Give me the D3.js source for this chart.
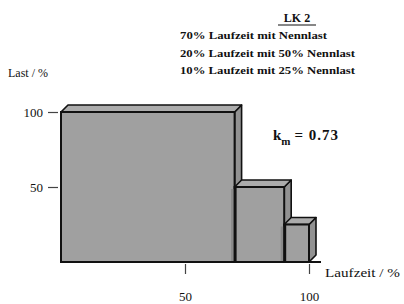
<!DOCTYPE html>
<html><head><meta charset="utf-8">
<script src="https://cdn.jsdelivr.net/npm/d3@7"></script>
<style>
html,body{margin:0;padding:0;background:#fff;}
svg{display:block;font-family:"Liberation Serif","DejaVu Serif",serif;}
</style></head>
<body><svg id="c" width="404" height="304"></svg>
<script>
// ---- data ----
const runtimeShare = [70, 20, 10];      // Laufzeit / %
const loadPct      = [100, 50, 25];     // Last / %
const xTickValues  = [50, 100];
const yTickValues  = [50, 100];
const legendTitle  = "LK 2";
const legendLines  = ["70% Laufzeit mit Nennlast", "20% Laufzeit mit 50% Nennlast", "10% Laufzeit mit 25% Nennlast"];
const kmValue      = "0.73";
const xTitle = "Laufzeit / %";
const yTitle = "Last / %";

// ---- layout ----
const svg = d3.select("#c");
const x = d3.scaleLinear().domain([0, 100]).range([61, 309]);
const y = d3.scaleLinear().domain([0, 100]).range([262, 112]);
const depth = 7;
const starts = [0, ...d3.cumsum(runtimeShare)].slice(0, runtimeShare.length);
const bars = runtimeShare.map((w, i) => ({x0: starts[i], x1: starts[i] + w, v: loadPct[i]}));

// x axis base line
svg.append("line").attr("x1", x(0)).attr("x2", x(100) + 12)
  .attr("y1", y(0)).attr("y2", y(0)).attr("stroke", "#111").attr("stroke-width", 2);

// bars (3D)
const g = svg.append("g");
bars.forEach((b, i) => {
  const L = x(b.x0), R = x(b.x1), T = y(b.v), B = y(0);
  g.append("path").attr("d", `M${R},${B}L${R + depth},${B - depth}L${R + depth},${T - depth}L${R},${T}Z`)
    .attr("fill", "#929292").attr("stroke", "#111").attr("stroke-width", 1.6).attr("stroke-linejoin", "round");
  g.append("path").attr("d", `M${L},${T}L${L + depth},${T - depth}L${R + depth},${T - depth}L${R},${T}Z`)
    .attr("fill", "#acacac").attr("stroke", "#111").attr("stroke-width", 1.6).attr("stroke-linejoin", "round");
  g.append("rect").attr("x", L).attr("y", T).attr("width", R - L).attr("height", B - T)
    .attr("fill", "#a0a0a0").attr("stroke", "#111").attr("stroke-width", 2);
  if (i < bars.length - 1) {
    g.append("line").attr("x1", R - 2).attr("x2", R - 2).attr("y1", y(bars[i + 1].v) + 2).attr("y2", B - 1)
      .attr("stroke", "#8a8a8a").attr("stroke-width", 3);
  }
});
bars.forEach((b, i) => {
  if (i > 0) g.append("line").attr("x1", x(b.x0) + 1).attr("x2", x(b.x0) + 1)
    .attr("y1", y(b.v)).attr("y2", y(0)).attr("stroke", "#111").attr("stroke-width", 2);
});

// y axis (ticks only)
const yAxis = svg.append("g").attr("transform", "translate(58,0)")
  .call(d3.axisLeft(y).tickValues(yTickValues).tickSize(10).tickPadding(5).tickFormat(d3.format("d")));
yAxis.select(".domain").remove();
yAxis.selectAll("line").attr("stroke", "#444").attr("stroke-width", 1.2);
yAxis.selectAll("text").attr("font-family", "Liberation Serif, serif").attr("font-size", 13).attr("fill", "#111");

// x axis (ticks only)
const xAxis = svg.append("g").attr("transform", `translate(0,${y(0) + 2})`)
  .call(d3.axisBottom(x).tickValues(xTickValues).tickSize(10).tickPadding(18).tickFormat(d3.format("d")));
xAxis.select(".domain").remove();
xAxis.selectAll("line").attr("stroke", "#444").attr("stroke-width", 1.2);
xAxis.selectAll("text").attr("font-family", "Liberation Serif, serif").attr("font-size", 13).attr("fill", "#111");

// titles
svg.append("text").attr("x", 8).attr("y", 77).attr("font-size", 12).attr("fill", "#111").text(yTitle);
svg.append("text").attr("x", 325).attr("y", 277).attr("font-size", 12).attr("fill", "#111")
  .attr("textLength", 75).attr("lengthAdjust", "spacingAndGlyphs").text(xTitle);

// legend block
svg.append("text").attr("x", 297).attr("y", 22).attr("text-anchor", "middle").attr("font-size", 12)
  .attr("font-weight", "bold").attr("fill", "#111").text(legendTitle);
svg.append("line").attr("x1", 278).attr("x2", 316).attr("y1", 25).attr("y2", 25).attr("stroke", "#111").attr("stroke-width", 1.2);
const legendWidths = [147, 175, 175];
legendLines.forEach((t, i) => {
  svg.append("text").attr("x", 180).attr("y", 39 + i * 17.5).attr("font-size", 11).attr("font-weight", "bold")
    .attr("fill", "#111").attr("textLength", legendWidths[i]).attr("lengthAdjust", "spacingAndGlyphs").text(t);
});

// k_m annotation
const km = svg.append("text").attr("x", 273).attr("y", 140).attr("font-size", 15).attr("font-weight", "bold").attr("fill", "#111");
km.append("tspan").text("k");
km.append("tspan").attr("font-size", 11).attr("dy", 5).text("m");
km.append("tspan").attr("dy", -5).attr("dx", 4).attr("letter-spacing", 1).text("= " + kmValue);
</script></body></html>
